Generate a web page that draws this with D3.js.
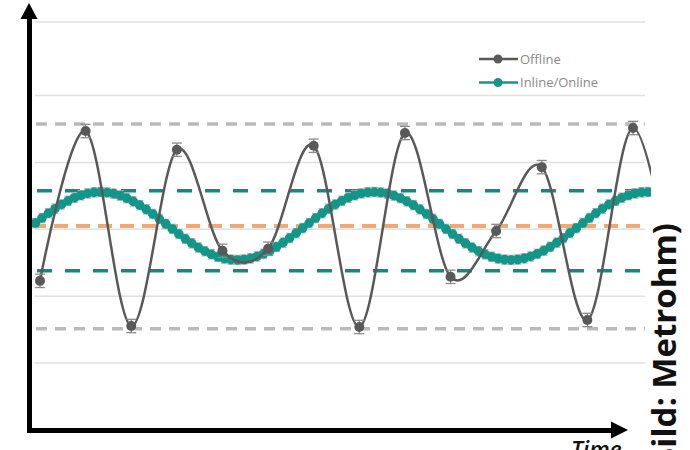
<!DOCTYPE html>
<html><head><meta charset="utf-8">
<script src="https://cdn.jsdelivr.net/npm/d3@7"></script>
<style>
html,body{margin:0;padding:0;background:#fff;overflow:hidden}
svg{display:block}
</style></head>
<body>
<svg id="chart" width="690" height="450"></svg>
<script>
// ---- data ----
const offlineTime = [0,1,2,3,4,5,6,7,8,9,10,11,12,13,14];
const offlineValues = [2.23,4.47,1.555,4.19,2.68,2.71,4.25,1.54,4.44,2.29,2.975,3.93,1.645,4.515,1.79];
const offlineError = 0.1;

const inlineStart = -0.1, inlineStep = 1/7;
const inlineValues = [
 3.094,3.169,3.241,3.309,3.372,3.427,3.473,3.510,3.537,3.553,3.558,3.551,3.534,3.505,3.466,3.418,3.362,3.299,3.230,3.157,3.082,
 3.006,2.931,2.859,2.791,2.728,2.673,2.627,2.590,2.563,2.547,2.542,2.549,2.566,2.595,2.634,2.682,2.738,2.801,2.870,2.943,3.018,
 3.094,3.169,3.241,3.309,3.372,3.427,3.473,3.510,3.537,3.553,3.558,3.551,3.534,3.505,3.466,3.418,3.362,3.299,3.230,3.157,3.082,
 3.006,2.931,2.859,2.791,2.728,2.673,2.627,2.590,2.563,2.547,2.542,2.549,2.566,2.595,2.634,2.682,2.738,2.801,2.870,2.943,3.018,
 3.094,3.169,3.241,3.309,3.372,3.427,3.473,3.510,3.537,3.553,3.558
];
const inlineError = 0.07;

const gridValues = [1,2,3,4,5,6.1];
const offlineLimits = [4.575,1.514];
const inlineLimits = [3.578,2.381];
const targetValue = [3.05];

const legendLabels = ["Offline","Inline/Online"];
const xLabel = "Time";
const creditLabel = "(Bild: Metrohm)";

// ---- drawing ----
const svg = d3.select("#chart");
const x = d3.scaleLinear().domain([0,13]).range([40,633]);
const y = d3.scaleLinear().domain([0,6.1]).range([430,22]);

const colGrid = "#e0e0e0", colOff = "#595959", colTeal = "#13968a", colTealDash = "#15897f",
      colOrange = "#f1a974", colGrayDash = "#bababa";

svg.append("defs").append("clipPath").attr("id","plot")
  .append("rect").attr("x",30).attr("y",0).attr("width",621).attr("height",430);

const gLeft = 35, gRight = 645;
svg.append("g").selectAll("line").data(gridValues).join("line")
  .attr("x1",gLeft).attr("x2",gRight).attr("y1",d=>y(d)).attr("y2",d=>y(d))
  .attr("stroke",colGrid).attr("stroke-width",1.5);

svg.append("g").selectAll("line").data(offlineLimits).join("line")
  .attr("x1",36).attr("x2",gRight).attr("y1",d=>y(d)).attr("y2",d=>y(d))
  .attr("stroke",colGrayDash).attr("stroke-width",3.5).attr("stroke-dasharray","11,8");

svg.append("g").selectAll("line").data(targetValue).join("line")
  .attr("x1",32).attr("x2",gRight).attr("y1",d=>y(d)).attr("y2",d=>y(d))
  .attr("stroke",colOrange).attr("stroke-width",4).attr("stroke-dasharray","14,8");

svg.append("g").selectAll("line").data(inlineLimits).join("line")
  .attr("x1",37).attr("x2",gRight).attr("y1",d=>y(d)).attr("y2",d=>y(d))
  .attr("stroke",colTealDash).attr("stroke-width",3.5).attr("stroke-dasharray","15,13");

const inline = inlineValues.map((v,i)=>({t:inlineStart+i*inlineStep,v}));
const offline = offlineValues.map((v,i)=>({t:offlineTime[i],v}));

const plot = svg.append("g").attr("clip-path","url(#plot)");

// inline series
const gi = plot.append("g");
gi.selectAll("line.eb").data(inline).join("line")
  .attr("x1",d=>x(d.t)).attr("x2",d=>x(d.t)).attr("y1",d=>y(d.v+inlineError)).attr("y2",d=>y(d.v-inlineError))
  .attr("stroke","#b4b4b4").attr("stroke-width",1);
[1,-1].forEach(s=>{
  gi.selectAll("line.cap"+s).data(inline).join("line")
    .attr("x1",d=>x(d.t)-3.5).attr("x2",d=>x(d.t)+3.5)
    .attr("y1",d=>y(d.v+s*inlineError)).attr("y2",d=>y(d.v+s*inlineError))
    .attr("stroke","#b4b4b4").attr("stroke-width",1.2);
});
gi.append("path").datum(inline)
  .attr("d",d3.line().x(d=>x(d.t)).y(d=>y(d.v)).curve(d3.curveCardinal))
  .attr("fill","none").attr("stroke",colTeal).attr("stroke-width",4.5);
gi.selectAll("circle").data(inline).join("circle")
  .attr("cx",d=>x(d.t)).attr("cy",d=>y(d.v)).attr("r",4.8).attr("fill",colTeal);

// offline series
const go = plot.append("g");
go.append("path").datum(offline)
  .attr("d",d3.line().x(d=>x(d.t)).y(d=>y(d.v)).curve(d3.curveCardinal))
  .attr("fill","none").attr("stroke",colOff).attr("stroke-width",2.5);
go.selectAll("line.eb").data(offline).join("line")
  .attr("x1",d=>x(d.t)).attr("x2",d=>x(d.t)).attr("y1",d=>y(d.v+offlineError)).attr("y2",d=>y(d.v-offlineError))
  .attr("stroke","#8a8a8a").attr("stroke-width",1.3);
[1,-1].forEach(s=>{
  go.selectAll("line.cap"+s).data(offline).join("line")
    .attr("x1",d=>x(d.t)-5).attr("x2",d=>x(d.t)+5)
    .attr("y1",d=>y(d.v+s*offlineError)).attr("y2",d=>y(d.v+s*offlineError))
    .attr("stroke","#8a8a8a").attr("stroke-width",1.3);
});
go.selectAll("circle").data(offline).join("circle")
  .attr("cx",d=>x(d.t)).attr("cy",d=>y(d.v)).attr("r",5).attr("fill",colOff);

// axes
const yAxisScale = d3.scaleLinear().domain([0,1]).range([432,16]);
svg.append("g").attr("transform","translate(29,0)")
  .call(d3.axisLeft(yAxisScale).tickValues([]).tickSizeOuter(0))
  .call(g=>g.select(".domain").attr("stroke","#000").attr("stroke-width",5));
const xAxisScale = d3.scaleLinear().domain([0,1]).range([26.5,614]);
svg.append("g").attr("transform","translate(0,430)")
  .call(d3.axisBottom(xAxisScale).tickValues([]).tickSizeOuter(0))
  .call(g=>g.select(".domain").attr("stroke","#000").attr("stroke-width",5));
svg.append("path").attr("d","M29,3 L37.5,19 L20.5,19 Z").attr("fill","#000");
svg.append("path").attr("d","M628,430 L611,421.5 L611,438.5 Z").attr("fill","#000");

// legend
const legCol = [colOff, colTeal];
const leg = svg.append("g");
legendLabels.forEach((lab,i)=>{
  const ly = 59 + i*23.5;
  leg.append("line").attr("x1",479).attr("x2",518).attr("y1",ly).attr("y2",ly)
    .attr("stroke",legCol[i]).attr("stroke-width",2.5);
  leg.append("circle").attr("cx",498).attr("cy",ly).attr("r",4.5).attr("fill",legCol[i]);
  leg.append("text").attr("x",520).attr("y",ly+4.5).text(lab)
    .attr("font-family","Open Sans, sans-serif").attr("font-size",13).attr("fill","#8a8a8a");
});

// labels
svg.append("text").attr("x",571).attr("y",458).text(xLabel)
  .attr("font-family","Open Sans, sans-serif").attr("font-style","italic").attr("font-weight",600)
  .attr("font-size",23).attr("fill","#111");
svg.append("text").attr("transform","translate(676,223) rotate(-90)")
  .attr("text-anchor","end").text(creditLabel)
  .attr("font-family","Open Sans, sans-serif").attr("font-weight",700)
  .attr("font-size",33).attr("fill","#111");
</script>
</body></html>
